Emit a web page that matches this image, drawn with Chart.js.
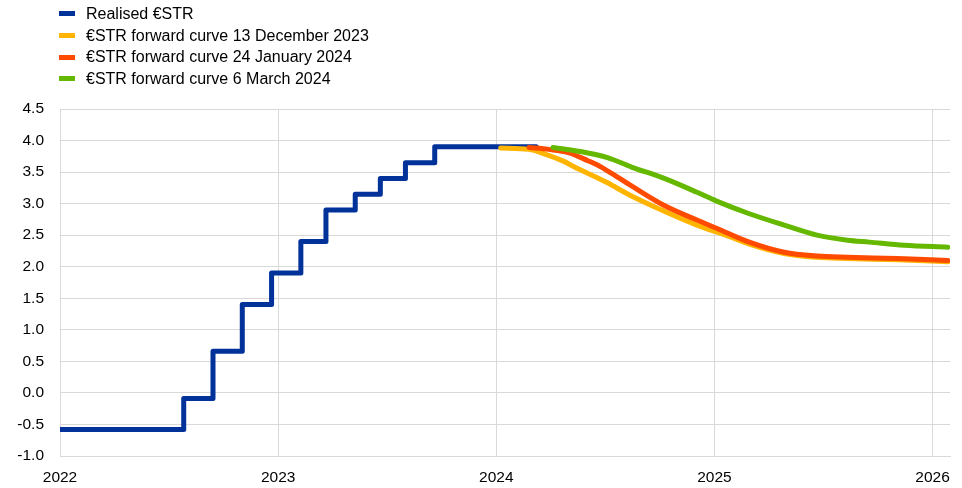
<!DOCTYPE html>
<html>
<head>
<meta charset="utf-8">
<script src="https://cdn.jsdelivr.net/npm/chart.js@4"></script>
<style>
  html,body{margin:0;padding:0;background:#fff;}
  #wrap{position:relative;width:962px;height:488px;font-family:"Liberation Sans",Arial,sans-serif;}
  #legend{position:absolute;left:59px;top:3px;font-size:16px;color:#000;}
  #legend div{height:21.7px;line-height:21px;white-space:nowrap;}
  #legend span{display:inline-block;width:16px;height:5px;margin-right:11px;vertical-align:middle;position:relative;top:-1px;}
</style>
</head>
<body>
<div id="wrap">
  <canvas id="c" width="962" height="488"></canvas>
  <div id="legend"></div>
</div>
<script>
// realised €STR: dates where the level changes, and the level from that date
const realisedDates = ['2022-01-01','2022-07-27','2022-09-14','2022-11-02','2022-12-21','2023-02-08','2023-03-22','2023-05-10','2023-06-21','2023-08-02','2023-09-20','2024-03-08'];
const realisedVals  = [-0.58,-0.09,0.66,1.40,1.90,2.40,2.90,3.15,3.40,3.65,3.90,3.90];

// forward curves, x in decimal years
const decX = [2024.02,2024.15,2024.22,2024.31,2024.37,2024.47,2024.51,2024.62,2024.77,2024.92,2025.06,2025.16,2025.32,2025.47,2025.61,2025.84,2026.07];
const decVals = [3.88,3.86,3.79,3.67,3.56,3.40,3.33,3.12,2.88,2.66,2.49,2.36,2.21,2.15,2.13,2.11,2.08];

const janX = [2024.15,2024.24,2024.33,2024.42,2024.47,2024.51,2024.62,2024.77,2024.92,2025.01,2025.16,2025.32,2025.47,2025.61,2025.84,2026.07];
const janVals = [3.89,3.86,3.81,3.68,3.60,3.52,3.28,2.97,2.74,2.61,2.39,2.23,2.17,2.15,2.13,2.10];

const marX = [2024.26,2024.41,2024.51,2024.62,2024.77,2024.92,2025.01,2025.16,2025.32,2025.47,2025.61,2025.71,2025.87,2026.07];
const marVals = [3.89,3.81,3.73,3.58,3.40,3.18,3.04,2.84,2.66,2.50,2.42,2.39,2.34,2.31];

const xTicks = [2022,2023,2024,2025,2026];
const labels = ['Realised €STR','€STR forward curve 13 December 2023','€STR forward curve 24 January 2024','€STR forward curve 6 March 2024'];
const colors = ['#003299','#ffb400','#ff4b00','#65b800'];

function dy(s){
  const d = new Date(s+'T00:00:00Z'), y = d.getUTCFullYear();
  return y + (d - Date.UTC(y,0,1)) / (Date.UTC(y+1,0,1) - Date.UTC(y,0,1));
}
const pts = (xs, ys) => xs.map((x,i)=>({x:x, y:ys[i]}));

const grid = '#d9d9d9';
const font = {family:'"Liberation Sans", Arial, sans-serif', size:15.5};

new Chart(document.getElementById('c'), {
  type:'line',
  data:{datasets:[
    {label:labels[0], data:pts(realisedDates.map(dy), realisedVals), borderColor:colors[0], stepped:true, order:4},
    {label:labels[1], data:pts(decX, decVals), borderColor:colors[1], cubicInterpolationMode:'monotone', order:3},
    {label:labels[2], data:pts(janX, janVals), borderColor:colors[2], cubicInterpolationMode:'monotone', order:2},
    {label:labels[3], data:pts(marX, marVals), borderColor:colors[3], cubicInterpolationMode:'monotone', order:1}
  ]},
  options:{
    responsive:false, animation:false,
    layout:{padding:{top:109, right:10, left:0, bottom:0}},
    elements:{point:{radius:0}, line:{borderWidth:5, borderCapStyle:'round', borderJoinStyle:'round', fill:false}},
    plugins:{legend:{display:false}, tooltip:{enabled:false}},
    scales:{
      x:{type:'linear', min:2022, max:2026.08,
        afterBuildTicks:s=>{ s.ticks = xTicks.map(v=>({value:v})); },
        afterFit:s=>{ s.height = 32; },
        grid:{color:grid, drawTicks:false}, border:{color:grid},
        ticks:{color:'#000', font:font, padding:12, maxRotation:0, autoSkip:false, callback:v=>String(v)}},
      y:{min:-1, max:4.5,
        afterFit:s=>{ s.width = 60; },
        grid:{color:grid, drawTicks:false}, border:{color:grid},
        ticks:{stepSize:0.5, color:'#000', font:font, padding:16, callback:v=>v.toFixed(1)}}
    }
  }
});

const lg = document.getElementById('legend');
labels.forEach((t,i)=>{
  const row = document.createElement('div');
  row.innerHTML = '<span style="background:'+colors[i]+'"></span>' + t;
  lg.appendChild(row);
});
</script>
</body>
</html>
